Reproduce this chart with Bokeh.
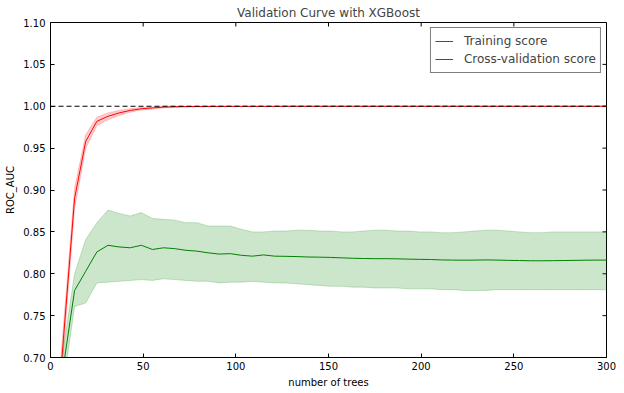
import math
from bokeh.plotting import figure
from bokeh.models import (FixedTicker, PrintfTickFormatter, Span,
                          Legend, LegendItem, Range1d)
from bokeh.embed import file_html
from bokeh.resources import INLINE

# ---- data ----
n_trees = [1, 7, 13, 19, 25, 31, 37, 43, 49, 55, 61, 67, 73, 79, 85, 91, 97,
           103, 109, 115, 121, 127, 133, 139, 145, 151, 157, 163, 169, 175,
           181, 187, 193, 199, 205, 211, 217, 223, 229, 235, 241, 247, 253,
           259, 265, 271, 277, 283, 289, 295, 301]

train_mean = [0.550, 0.723, 0.890, 0.958, 0.982, 0.988, 0.992, 0.995, 0.997,
              0.998, 0.999, 0.9994, 0.9996, 0.9997, 0.9998, 0.9998, 0.9999,
              0.9999, 0.9999, 0.9999, 0.9999, 1.0, 1.0, 1.0, 1.0, 1.0, 1.0,
              1.0, 1.0, 1.0, 1.0, 1.0, 1.0, 1.0, 1.0, 1.0, 1.0, 1.0, 1.0, 1.0,
              1.0, 1.0, 1.0, 1.0, 1.0, 1.0, 1.0, 1.0, 1.0, 1.0, 1.0]
train_spread = [0.020, 0.015, 0.012, 0.008, 0.005, 0.004, 0.003, 0.002, 0.0015,
                0.0012, 0.001, 0.0008, 0.0006, 0.0005, 0.0004, 0.0003, 0.0003,
                0.0002, 0.0002, 0.0002, 0.0002, 0.0001, 0.0001, 0.0001, 0.0001,
                0.0001, 0.0001, 0.0001, 0.0001, 0.0001, 0.0001, 0.0001, 0.0001,
                0.0001, 0.0001, 0.0001, 0.0001, 0.0001, 0.0001, 0.0001, 0.0001,
                0.0001, 0.0001, 0.0001, 0.0001, 0.0001, 0.0001, 0.0001, 0.0001,
                0.0001, 0.0001]

cv_mean = [0.550, 0.690, 0.780, 0.803, 0.826, 0.834, 0.832, 0.831, 0.834,
           0.829, 0.831, 0.830, 0.828, 0.827, 0.825, 0.8235, 0.824, 0.822,
           0.821, 0.8225, 0.821, 0.8208, 0.8205, 0.8200, 0.8198, 0.8195,
           0.8190, 0.8185, 0.8182, 0.8180, 0.8180, 0.8178, 0.8175, 0.8172,
           0.8170, 0.8165, 0.8163, 0.8162, 0.8163, 0.8165, 0.8163, 0.8160,
           0.8158, 0.8155, 0.8155, 0.8156, 0.8158, 0.8160, 0.8162, 0.8163,
           0.8163]
cv_upper = [0.580, 0.712, 0.800, 0.841, 0.861, 0.876, 0.872, 0.869, 0.873,
            0.866, 0.865, 0.864, 0.861, 0.861, 0.857, 0.857, 0.857, 0.853,
            0.850, 0.850, 0.851, 0.851, 0.852, 0.852, 0.851, 0.851, 0.850,
            0.850, 0.851, 0.852, 0.852, 0.851, 0.851, 0.850, 0.850, 0.849,
            0.849, 0.850, 0.851, 0.852, 0.852, 0.851, 0.850, 0.849, 0.849,
            0.850, 0.850, 0.850, 0.850, 0.850, 0.850]
cv_lower = [0.520, 0.668, 0.761, 0.765, 0.789, 0.790, 0.791, 0.792, 0.793,
            0.792, 0.794, 0.793, 0.792, 0.791, 0.791, 0.789, 0.790, 0.790,
            0.791, 0.790, 0.789, 0.789, 0.788, 0.787, 0.786, 0.785, 0.785,
            0.784, 0.784, 0.783, 0.783, 0.783, 0.782, 0.782, 0.782, 0.781,
            0.781, 0.780, 0.780, 0.780, 0.781, 0.781, 0.781, 0.781, 0.781,
            0.781, 0.781, 0.781, 0.781, 0.781, 0.781]

x_ticks = [0, 50, 100, 150, 200, 250, 300]
y_ticks = [0.70, 0.75, 0.80, 0.85, 0.90, 0.95, 1.00, 1.05, 1.10]
baseline = 1.0
x_lo, x_hi = 0, 300
y_lo, y_hi = 0.70, 1.10

train_upper = [m + s for m, s in zip(train_mean, train_spread)]
train_lower = [m - s for m, s in zip(train_mean, train_spread)]

FONT = "DejaVu Sans"

p = figure(width=624, height=393, output_backend="svg", toolbar_location=None,
           x_range=Range1d(x_lo, x_hi), y_range=Range1d(y_lo, y_hi),
           title="Validation Curve with XGBoost",
           min_border_left=50, min_border_right=18, min_border_top=22,
           min_border_bottom=36)

p.title.align = "center"
p.title.text_font = FONT
p.title.text_font_size = "12px"
p.title.text_font_style = "normal"
p.title.standoff = 6
p.title.offset = 0

p.xgrid.visible = False
p.ygrid.visible = False
p.outline_line_color = "black"
p.outline_line_width = 1
p.background_fill_color = "white"
p.border_fill_color = "white"

for ax in (p.xaxis[0], p.yaxis[0]):
    ax.major_tick_in = 4
    ax.major_tick_out = 0
    ax.minor_tick_line_color = None
    ax.major_label_text_font = FONT
    ax.major_label_text_font_size = "10px"
    ax.major_label_text_color = "black"
    ax.major_label_text_line_height = 1.0
    ax.axis_label_text_font = FONT
    ax.axis_label_text_font_size = "10px"
    ax.axis_label_text_font_style = "normal"
    ax.axis_label_text_line_height = 1.0
    ax.axis_label_text_color = "black"
    ax.axis_line_color = "black"
    ax.major_tick_line_color = "black"

p.xaxis.ticker = FixedTicker(ticks=x_ticks)
p.yaxis.ticker = FixedTicker(ticks=y_ticks)
p.yaxis.formatter = PrintfTickFormatter(format="%.2f")
p.xaxis.axis_label = "number of trees"
p.yaxis.axis_label = "ROC_AUC"
p.xaxis.major_label_standoff = 4
p.yaxis.major_label_standoff = 5
p.xaxis.axis_label_standoff = 4
p.yaxis.axis_label_standoff = 4

# inward ticks on the top and right spines (matplotlib classic look)
p.ray(x=x_ticks, y=[y_hi] * len(x_ticks), length=4, length_units="screen",
      angle=-math.pi / 2, line_color="black", line_width=1)
p.ray(x=[x_hi] * len(y_ticks), y=y_ticks, length=4, length_units="screen",
      angle=math.pi, line_color="black", line_width=1)

# bands and lines
p.varea(x=n_trees, y1=train_lower, y2=train_upper, fill_color="red", fill_alpha=0.2)
p.line(n_trees, train_lower, line_color="red", line_alpha=0.2, line_width=1)
p.line(n_trees, train_upper, line_color="red", line_alpha=0.2, line_width=1)
r_train = p.line(n_trees, train_mean, line_color="red", line_width=1)

p.varea(x=n_trees, y1=cv_lower, y2=cv_upper, fill_color="green", fill_alpha=0.2)
p.line(n_trees, cv_lower, line_color="green", line_alpha=0.2, line_width=1)
p.line(n_trees, cv_upper, line_color="green", line_alpha=0.2, line_width=1)
r_cv = p.line(n_trees, cv_mean, line_color="green", line_width=1)

p.add_layout(Span(location=baseline, dimension="width", line_color="black",
                  line_dash="5 3", line_width=1))

legend = Legend(items=[LegendItem(label="Training score", renderers=[r_train]),
                       LegendItem(label="Cross-validation score", renderers=[r_cv])],
                location="top_right")
legend.label_text_font = FONT
legend.label_text_font_size = "12px"
legend.label_height = 18
legend.glyph_height = 18
legend.glyph_width = 18
legend.label_standoff = 11
legend.spacing = 0
legend.padding = 4
legend.margin = 5
legend.border_line_color = "black"
legend.border_line_width = 1
legend.background_fill_alpha = 1.0
p.add_layout(legend)

open("out.html", "w").write(file_html(p, INLINE))
